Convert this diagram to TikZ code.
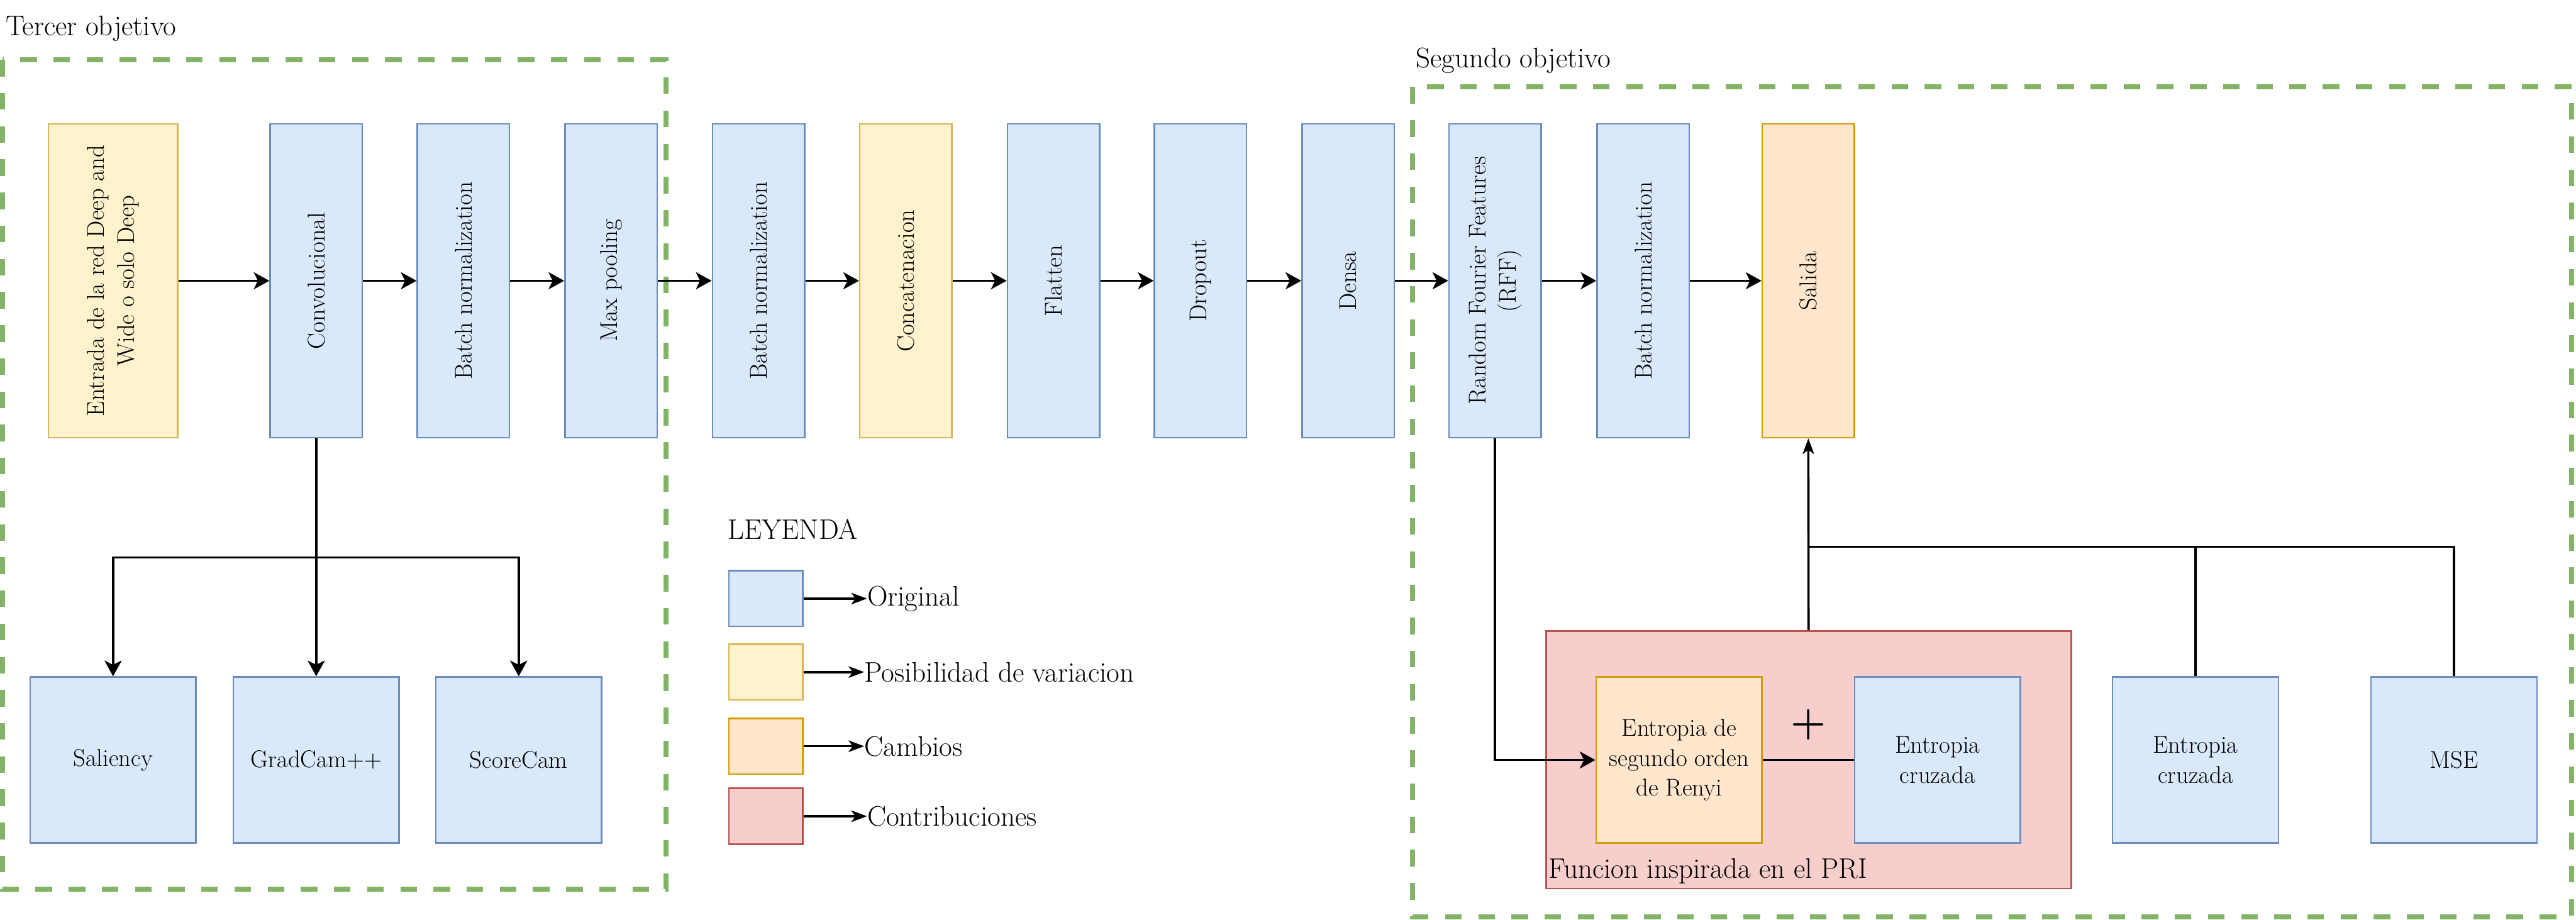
\documentclass[tikz,border=0pt]{standalone}
\usepackage{xcolor}
\usepackage{tikz}
\usetikzlibrary{arrows.meta}
\usetikzlibrary{positioning}

\definecolor{origfill}{HTML}{DAE8FC}
\definecolor{origline}{HTML}{6C8EBF}
\definecolor{varfill}{HTML}{FFF2CC}
\definecolor{varline}{HTML}{D6B656}
\definecolor{chgfill}{HTML}{FFE6CC}
\definecolor{chgline}{HTML}{D79B00}
\definecolor{contfill}{HTML}{F8CECC}
\definecolor{contline}{HTML}{B85450}
\definecolor{objline}{HTML}{82B366}

\tikzset{
every node/.style = { font = \fontsize{15}{18.5}\selectfont },
layer/.style = { rectangle, draw = origline, fill = origfill, line width = 1pt, minimum width = 2cm, minimum height = 6.81cm, inner sep = 0pt },
var layer/.style = { layer, draw = varline, fill = varfill },
chg layer/.style = { layer, draw = chgline, fill = chgfill },
block/.style = { rectangle, draw = origline, fill = origfill, line width = 1pt, minimum size = 3.6cm, inner sep = 2pt, align = center },
chg block/.style = { block, draw = chgline, fill = chgfill },
contrib/.style = { rectangle, draw = contline, fill = contfill, line width = 1pt, minimum width = 11.40cm, minimum height = 5.59cm },
key/.style = { rectangle, line width = 1pt, minimum width = 1.61cm, minimum height = 1.21cm },
plain text/.style = { inner sep = 0pt, font = \fontsize{17.5}{21}\selectfont },
objective/.style = { draw = objline, line width = 0.11cm, dash pattern = on 0.36cm off 0.36cm },
link/.style = { draw = black, line width = 1.4pt },
flow/.style = { link, -{Stealth[length = 3.4mm, width = 3.7mm, inset = 0.9mm]} },
thin flow/.style = { link, -{Stealth[length = 3.4mm, width = 2.5mm, inset = 0.9mm]} },
}

\begin{document}
\begin{tikzpicture}
    \useasboundingbox (0, 0) rectangle (55.92, -19.96);
    % objetivos
    \draw[objective] (0.06, -1.30) rectangle (14.46, -19.31);
    \draw[objective] (30.66, -1.89) rectangle (55.83, -19.90);
    \node[plain text, anchor = west] (tercer) at (0.12, -0.62) {Tercer objetivo};
    \node[plain text, anchor = west] (segundo) at (30.73, -1.32) {Segundo objetivo};
    % red
    \node[var layer, minimum width = 2.81cm] (ent) at (2.455, -6.095) {\rotatebox{90}{\begin{tabular}{@{}c@{}}Entrada de la red Deep and\\Wide o solo Deep\end{tabular}}};
    \node[layer] (conv) at (6.865, -6.095) {\rotatebox{90}{Convolucional}};
    \node[layer] (bn1) at (10.06, -6.095) {\rotatebox{90}{Batch normalization}};
    \node[layer] (pool) at (13.265, -6.095) {\rotatebox{90}{Max pooling}};
    \node[layer] (bn2) at (16.465, -6.095) {\rotatebox{90}{Batch normalization}};
    \node[var layer] (concat) at (19.665, -6.095) {\rotatebox{90}{Concatenacion}};
    \node[layer] (flat) at (22.87, -6.095) {\rotatebox{90}{Flatten}};
    \node[layer] (drop) at (26.06, -6.095) {\rotatebox{90}{Dropout}};
    \node[layer] (dense) at (29.265, -6.095) {\rotatebox{90}{Densa}};
    \node[layer] (rff) at (32.455, -6.095) {\rotatebox{90}{\begin{tabular}{@{}c@{}}Random Fourier Features\\(RFF)\end{tabular}}};
    \node[layer] (bn3) at (35.67, -6.095) {\rotatebox{90}{Batch normalization}};
    \node[chg layer] (out) at (39.255, -6.095) {\rotatebox{90}{Salida}};
    \draw[flow] (ent) -- (conv);
    \draw[flow] (conv) -- (bn1);
    \draw[flow] (bn1) -- (pool);
    \draw[flow] (pool) -- (bn2);
    \draw[flow] (bn2) -- (concat);
    \draw[flow] (concat) -- (flat);
    \draw[flow] (flat) -- (drop);
    \draw[flow] (drop) -- (dense);
    \draw[flow] (dense) -- (rff);
    \draw[flow] (rff) -- (bn3);
    \draw[flow] (bn3) -- (out);
    % explicabilidad
    \node[block] (sal) at (2.455, -16.5) {Saliency};
    \node[block] (grad) at (6.865, -16.5) {GradCam++};
    \node[block] (score) at (11.26, -16.5) {ScoreCam};
    \coordinate (split) at (6.865, -12.10);
    \draw[link] (conv.south) -- (split);
    \draw[flow] (split) -| (sal.north);
    \draw[flow] (split) -- (grad.north);
    \draw[flow] (split) -| (score.north);
    % leyenda
    \node[plain text, anchor = west] (leyenda) at (15.79, -11.49) {LEYENDA};
    \node[key, draw = origline, fill = origfill] (k1) at (16.625, -12.995) {};
    \node[key, draw = varline, fill = varfill] (k2) at (16.625, -14.59) {};
    \node[key, draw = chgline, fill = chgfill] (k3) at (16.625, -16.2) {};
    \node[key, draw = contline, fill = contfill] (k4) at (16.625, -17.72) {};
    \node[plain text, anchor = west] (t1) at (18.82, -12.995) {Original};
    \node[plain text, anchor = west] (t2) at (18.76, -14.59) {Posibilidad de variacion};
    \node[plain text, anchor = west] (t3) at (18.76, -16.2) {Cambios};
    \node[plain text, anchor = west] (t4) at (18.82, -17.72) {Contribuciones};
    \draw[thin flow] (k1) -- (t1);
    \draw[thin flow] (k2) -- (t2);
    \draw[thin flow] (k3) -- (t3);
    \draw[thin flow] (k4) -- (t4);
    % funcion de costo
    \node[contrib] (pri) at (39.26, -16.495) {};
    \node[plain text, anchor = base west] (prilabel) at (33.61, -19.07) {Funcion inspirada en el PRI};
    \node[chg block] (renyi) at (36.45, -16.5) {Entropia de\\segundo orden\\de Renyi};
    \node[block] (ce1) at (42.06, -16.5) {Entropia\\cruzada};
    \node[block] (ce2) at (47.66, -16.5) {Entropia\\cruzada};
    \node[block] (mse) at (53.27, -16.5) {MSE};
    \node[inner sep = 0pt] (plus) at (39.26, -15.73) {\fontsize{25}{30}\selectfont\textbf{+}};
    \draw[flow] (rff.south) |- (renyi.west);
    \draw[link] (renyi) -- (ce1);
    \coordinate (join) at (39.26, -11.87);
    \draw[thin flow] (pri.north) -- (out.south);
    \draw[link] (ce2.north) |- (join);
    \draw[link] (mse.north) |- (join);
\end{tikzpicture}
\end{document}
